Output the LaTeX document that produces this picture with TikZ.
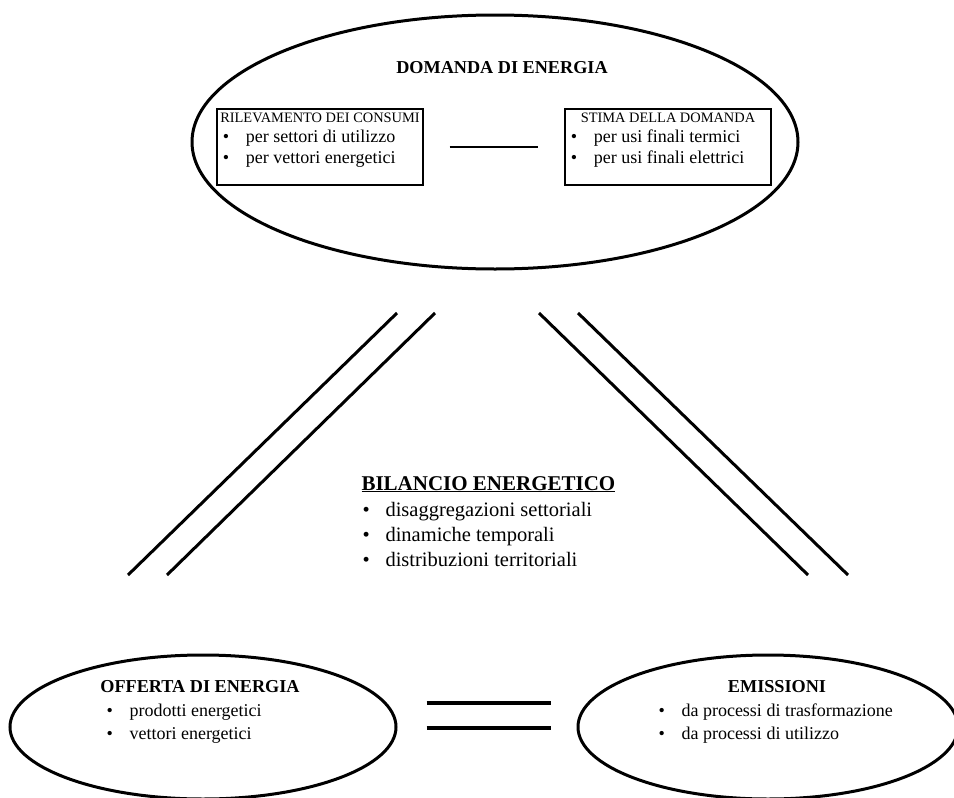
\documentclass[tikz,border=0pt]{standalone}
\usepackage{fontspec}
\setmainfont{Liberation Serif}
\usetikzlibrary{shapes.geometric,positioning}

\tikzset{
  bubble/.style={draw, ellipse, line width=3pt, inner sep=0pt},
  infobox/.style={draw, line width=1.2pt, inner sep=0pt, minimum width=206pt, minimum height=76pt},
  bigtitle/.style={font=\bfseries\fontsize{18.2}{21}\selectfont},
  boxtitle/.style={font=\fontsize{14.4}{17}\selectfont},
  boxitem/.style={font=\fontsize{18}{21}\selectfont},
  link/.style={line width=3pt},
}
\newcommand{\voce}[2][23pt]{\makebox[#1][l]{\textbullet}#2}

\begin{document}
\begin{tikzpicture}[x=1pt,y=-1pt]
  \useasboundingbox (0,0) rectangle (954,798);

  % domanda di energia, with its two boxes
  \node[bubble, minimum width=606pt, minimum height=254pt] (domanda) at (495,142) {};
  \node[bigtitle, anchor=base] (domtitolo) at (502,73) {DOMANDA DI ENERGIA};
  \node[infobox] (rilievo) at (320,147) {};
  \node[infobox] (stima) at (668,147) {};
  \node[boxtitle, anchor=base] (rilievo-t) at ([yshift=-14pt]rilievo.north) {RILEVAMENTO DEI CONSUMI};
  \node[boxitem, anchor=base west] (rilievo-1) at ([xshift=3pt,yshift=-34pt]rilievo.north west) {\voce{per settori di utilizzo}};
  \node[boxitem, anchor=base west] (rilievo-2) at ([xshift=3pt,yshift=-55pt]rilievo.north west) {\voce{per vettori energetici}};
  \node[boxtitle, anchor=base] (stima-t) at ([yshift=-14pt]stima.north) {STIMA DELLA DOMANDA};
  \node[boxitem, anchor=base west] (stima-1) at ([xshift=3pt,yshift=-34pt]stima.north west) {\voce{per usi finali termici}};
  \node[boxitem, anchor=base west] (stima-2) at ([xshift=3pt,yshift=-55pt]stima.north west) {\voce{per usi finali elettrici}};
  \draw[line width=1.6pt, shorten <=26pt, shorten >=26pt] (rilievo.east) -- (stima.west);

  % bilancio energetico in the middle
  \node[font=\bfseries\fontsize{21}{24}\selectfont, anchor=base west] (bilancio) at (358,490) {\underline{BILANCIO ENERGETICO}};
  \node[font=\fontsize{20.5}{24}\selectfont, anchor=base west] (bil-1) at (359,516) {\voce{disaggregazioni settoriali}};
  \node[font=\fontsize{20.5}{24}\selectfont, anchor=base west] (bil-2) at (359,541) {\voce{dinamiche temporali}};
  \node[font=\fontsize{20.5}{24}\selectfont, anchor=base west] (bil-3) at (359,566) {\voce{distribuzioni territoriali}};

  % offerta and emissioni
  \node[bubble, minimum width=386pt, minimum height=144pt] (offerta) at (203,727) {};
  \node[bubble, minimum width=380pt, minimum height=144pt] (emissioni) at (768,727) {};
  \node[bigtitle, anchor=base] (offtitolo) at (200,692) {OFFERTA DI ENERGIA};
  \node[boxitem, anchor=base west] (off-1) at (103,716) {\voce{prodotti energetici}};
  \node[boxitem, anchor=base west] (off-2) at (103,739) {\voce{vettori energetici}};
  \node[bigtitle, anchor=base] (emititolo) at (777,692) {EMISSIONI};
  \node[boxitem, anchor=base west] (emi-1) at (655,716) {\voce{da processi di trasformazione}};
  \node[boxitem, anchor=base west] (emi-2) at (655,739) {\voce{da processi di utilizzo}};

  % double lines between the three parts
  \coordinate (dl1) at (397,313); \coordinate (ol1) at (128,575);
  \coordinate (dl2) at (435,313); \coordinate (ol2) at (167,575);
  \coordinate (dr1) at (539,313); \coordinate (er1) at (808,575);
  \coordinate (dr2) at (578,313); \coordinate (er2) at (848,575);
  \draw[link] (dl1) -- (ol1);
  \draw[link] (dl2) -- (ol2);
  \draw[link] (dr1) -- (er1);
  \draw[link] (dr2) -- (er2);
  \draw[line width=4pt, shorten <=29pt, shorten >=26pt] ([yshift=24pt]offerta.east) -- ([yshift=24pt]emissioni.west);
  \draw[line width=4pt, shorten <=29pt, shorten >=26pt] ([yshift=-1pt]offerta.east) -- ([yshift=-1pt]emissioni.west);
\end{tikzpicture}
\end{document}
